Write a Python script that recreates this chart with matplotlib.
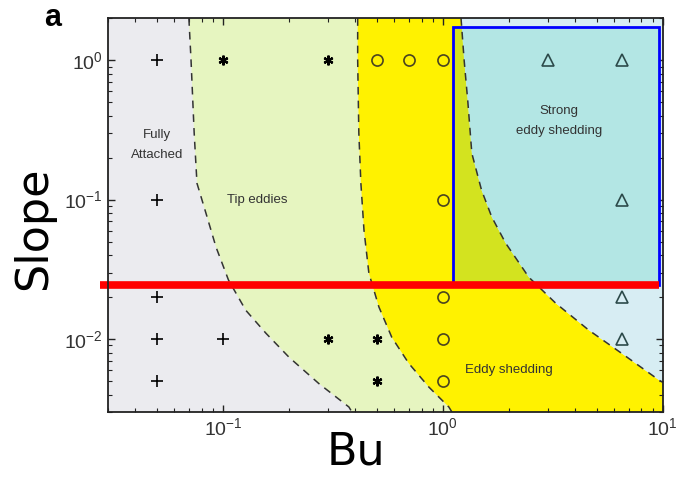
import numpy as np
import matplotlib
matplotlib.use("Agg")
import matplotlib.pyplot as plt
from matplotlib.patches import Rectangle

plt.rcParams['font.family'] = ['Liberation Sans', 'DejaVu Sans']
plt.rcParams['mathtext.fontset'] = 'custom'
plt.rcParams['mathtext.rm'] = 'Liberation Sans'
plt.rcParams['mathtext.it'] = 'Liberation Sans:italic'

# Experiment points (Bu, slope)
plus_bu = [0.05, 0.05, 0.05, 0.05, 0.05, 0.1]
plus_slope = [1.0, 0.1, 0.02, 0.01, 0.005, 0.01]
star_bu = [0.1, 0.3, 0.3, 0.5, 0.5]
star_slope = [1.0, 1.0, 0.01, 0.01, 0.005]
circ_bu = [0.5, 0.7, 1.0, 1.0, 1.0, 1.0, 1.0]
circ_slope = [1.0, 1.0, 1.0, 0.1, 0.02, 0.01, 0.005]
tri_bu = [3.0, 6.5, 6.5, 6.5, 6.5]
tri_slope = [1.0, 1.0, 0.1, 0.02, 0.01]

# Regime boundaries (Bu at given slope)
b1_slope = [2.0, 1.0, 0.3, 0.131, 0.080, 0.0457, 0.0265, 0.0161, 0.011, 0.0074, 0.0048, 0.00326, 0.003]
b1_bu = [0.070, 0.0716, 0.074, 0.0762, 0.0837, 0.093, 0.106, 0.127, 0.157, 0.20, 0.273, 0.374, 0.386]
b2_slope = [2.0, 1.0, 0.3, 0.131, 0.0604, 0.0297, 0.0170, 0.0103, 0.0067, 0.00453, 0.00326, 0.003]
b2_bu = [0.41, 0.41, 0.415, 0.424, 0.438, 0.461, 0.512, 0.586, 0.70, 0.864, 1.065, 1.10]
b3_slope = [2.0, 1.0, 0.5, 0.215, 0.117, 0.075, 0.0488, 0.0278, 0.0181, 0.0116, 0.0079, 0.0051, 0.0049]
b3_bu = [1.21, 1.25, 1.30, 1.355, 1.50, 1.67, 1.93, 2.46, 3.26, 4.61, 6.51, 9.59, 10.0]

xlim = (0.03, 10)
ylim = (0.003, 2.0)

# highlight box and red line
box_bu = (1.11, 9.6)
box_slope = (0.0246, 1.72)
red_slope = 0.0246
red_bu = (0.0276, 9.6)

fig = plt.figure(figsize=(6.79, 4.78), dpi=100)
ax = fig.add_axes([0.159, 0.138, 0.817, 0.824])
ax.set_xscale('log')
ax.set_yscale('log')
ax.set_xlim(*xlim)
ax.set_ylim(*ylim)
ax.set_facecolor('#ebebef')

# regions
green_x = b1_bu + b2_bu[::-1]
green_y = b1_slope + b2_slope[::-1]
ax.fill(green_x, green_y, color='#e6f5c0', lw=0, zorder=1)

yel_x = b2_bu + [xlim[1]] + b3_bu[::-1]
yel_y = b2_slope + [ylim[0]] + b3_slope[::-1]
ax.fill(yel_x, yel_y, color='#fff200', lw=0, zorder=1)

blue_x = b3_bu + [xlim[1]]
blue_y = b3_slope + [ylim[1]]
ax.fill(blue_x, blue_y, color='#d7edf3', lw=0, zorder=1)

box = Rectangle((box_bu[0], box_slope[0]), box_bu[1] - box_bu[0], box_slope[1] - box_slope[0],
                fill=False, edgecolor='#0000ff', lw=2, zorder=6)
ax.add_patch(box)
for p in ax.fill(yel_x, yel_y, color='#d3e31f', lw=0, zorder=2):
    p.set_clip_path(box)
for p in ax.fill(blue_x, blue_y, color='#b3e6e4', lw=0, zorder=2):
    p.set_clip_path(box)

for bx, by in [(b1_bu, b1_slope), (b2_bu, b2_slope), (b3_bu, b3_slope)]:
    ax.plot(bx, by, color='#333333', lw=1.1, ls=(0, (5, 4)), zorder=3)

# markers
ax.plot(plus_bu, plus_slope, '+', color='black', ms=9, mew=1.2, ls='none', zorder=4)
ax.plot(star_bu, star_slope, marker=(6, 2, 0), color='black', ms=7, mew=1.6, ls='none', zorder=4)
ax.plot(circ_bu, circ_slope, 'o', mfc='none', mec='#4a4420', ms=8, mew=1.2, ls='none', zorder=4)
ax.plot(tri_bu, tri_slope, '^', mfc='none', mec='#2c4a4a', ms=8, mew=1.2, ls='none', zorder=4)

# labels inside
tc = '#333333'
ax.text(0.05, 0.246, 'Fully\nAttached', ha='center', va='center', fontsize=9.5,
        color=tc, linespacing=1.9, zorder=5)
ax.text(0.143, 0.1, 'Tip eddies', ha='center', va='center', fontsize=9.5, color=tc, zorder=5)
ax.text(3.37, 0.365, 'Strong\neddy shedding', ha='center', va='center', fontsize=9.5,
        color=tc, linespacing=1.9, zorder=5)
ax.text(2.0, 0.006, 'Eddy shedding', ha='center', va='center', fontsize=9.5, color=tc, zorder=5)

ax.plot(red_bu, [red_slope, red_slope], color='#ff0000', lw=5.5, solid_capstyle='butt',
        clip_on=False, zorder=7)

ax.tick_params(which='both', direction='in', top=True, right=True, colors='#222222',
               labelcolor='#333333', labelsize=14)
ax.tick_params(which='major', length=5, width=1)
ax.tick_params(which='minor', length=3, width=0.8)
ax.set_xticks([0.1, 1, 10])
ax.set_yticks([0.01, 0.1, 1])
for s in ax.spines.values():
    s.set_linewidth(1.3)
    s.set_color('#222222')
    s.set_zorder(8)

fig.text(0.078, 0.962, 'a', fontsize=22, fontweight='bold', ha='center', va='center')
fig.text(0.049, 0.523, 'Slope', fontsize=32, rotation=90, ha='center', va='center',
         family='DejaVu Sans')
fig.text(0.524, 0.054, 'Bu', fontsize=32, ha='center', va='center', family='DejaVu Sans')

fig.savefig('out.png', dpi=100)
